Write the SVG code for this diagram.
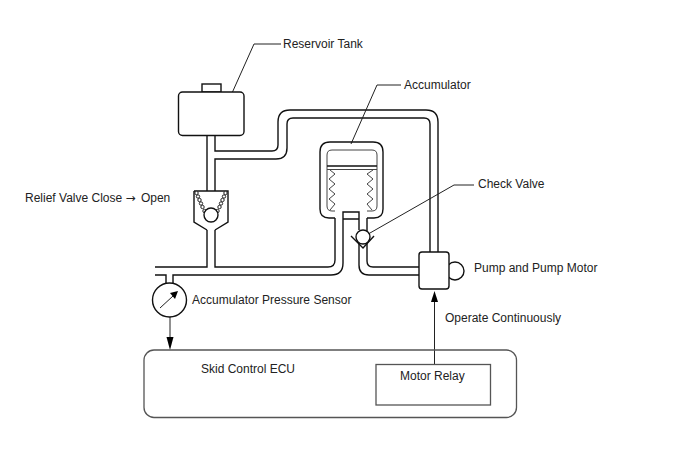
<svg xmlns="http://www.w3.org/2000/svg" width="688" height="463" viewBox="0 0 688 463">
  <defs>
    <style>
      .l { fill: none; stroke: #111; stroke-width: 1.4; }
      .t { fill: none; stroke: #222; stroke-width: 1; }
      .g { fill: none; stroke: #444; stroke-width: 1; }
      .f { fill: none; stroke: #555; stroke-width: 1.3; }
      .b { fill: #fff; stroke: #111; stroke-width: 1.4; }
      .c { fill: #fff; stroke: #222; stroke-width: 1; }
      .h { fill: #000; }
      .a { font-family: "DejaVu Sans", sans-serif; }
      text { font-family: "Liberation Sans", Arial, sans-serif; font-size: 12px; fill: #222; }
    </style>
  </defs>
  <rect width="688" height="463" fill="#fff"/>

  <g id="connectors">
    <!-- hydraulic lines -->
    <path class="l" d="M207 135V191M215 135V151H272Q278 151 278 145V122Q278 110 290 110H426Q438 110 438 122V252"/>
    <path class="l" d="M215 191V159H276Q287 159 287 148V124Q287 118 293 118H424Q430 118 430 124V252"/>
    <path class="l" d="M155 267H207V230M215 230V267H328Q335 267 335 260V218"/>
    <path class="l" d="M155 275H166V285M173 285V275H331Q343 275 343 263V219"/>
    <path class="l" d="M359 243V265Q359 275 369 275H419M367 243V261Q367 267 373 267H419"/>
    <!-- leader lines -->
    <path class="t" d="M281 44H254L228 102"/>
    <path class="t" d="M401 85H377L351 144"/>
    <path class="t" d="M474 185H454L363 237"/>
    <!-- signal lines -->
    <path class="t" d="M170 317V340"/>
    <path class="h" d="M166.500 337H173.500L170 350Z"/>
    <path class="t" d="M434.500 364V300"/>
    <path class="h" d="M431 302H438L434.500 291Z"/>
  </g>

  <g id="reservoir-tank">
    <rect class="b" x="202" y="84" width="19" height="8"/>
    <rect class="b" x="178.500" y="92" width="65.500" height="43.500" rx="4"/>
    <text x="283" y="48">Reservoir Tank</text>
  </g>

  <g id="relief-valve">
    <path class="l" d="M194 191H228V222L215 230M207 230L194 222V191"/>
    <g>
      <circle class="c" cx="196.500" cy="193" r="1.700"/><circle class="c" cx="198" cy="196.500" r="1.700"/>
      <circle class="c" cx="199.500" cy="200" r="1.700"/><circle class="c" cx="201" cy="203.500" r="1.700"/>
      <circle class="c" cx="202.500" cy="207" r="1.700"/><circle class="c" cx="204.500" cy="211" r="1.700"/>
      <circle class="c" cx="225.500" cy="193" r="1.700"/><circle class="c" cx="224" cy="196.500" r="1.700"/>
      <circle class="c" cx="222.500" cy="200" r="1.700"/><circle class="c" cx="221" cy="203.500" r="1.700"/>
      <circle class="c" cx="219.500" cy="207" r="1.700"/><circle class="c" cx="217.500" cy="211" r="1.700"/>
    </g>
    <circle class="b" cx="211" cy="215" r="7"/>
    <text x="25" y="202">Relief Valve Close <tspan class="a">→</tspan><tspan dx="2"> Open</tspan></text>
  </g>

  <g id="accumulator">
    <path class="l" d="M335 218H329Q320 218 320 209V152Q320 142 330 142H373Q383 142 383 152V209Q383 218 374 218H367"/>
    <path class="g" d="M335 211H332Q327 211 327 206V155Q327 150 332 150H372Q377 150 377 155V206Q377 211 372 211H367"/>
    <path class="l" d="M327 166H377"/>
    <path class="g" d="M327 169.500H377"/>
    <path class="g" d="M330 170L335 174L329 179L335 184L329 189L335 194L329 199L335 204L330 210"/>
    <path class="g" d="M373 170L367 174L373 179L367 184L373 189L367 194L373 199L367 204L372 210"/>
    <path class="l" d="M343 219V212H359V230M343 219H359M367 218V231"/>
    <text x="404" y="89">Accumulator</text>
  </g>

  <g id="check-valve">
    <path class="l" d="M351 236L363 248L374 236"/>
    <circle class="b" cx="363" cy="237" r="7"/>
    <text x="478" y="188">Check Valve</text>
  </g>

  <g id="pump">
    <circle class="b" cx="455" cy="271" r="9"/>
    <rect class="b" x="419" y="252" width="30" height="37" rx="3"/>
    <text x="474" y="272">Pump and Pump Motor</text>
  </g>

  <g id="pressure-sensor">
    <circle class="b" cx="169.500" cy="300" r="17"/>
    <path class="t" d="M160 308L173 296"/>
    <path class="h" d="M170 293L175 299L178 291Z"/>
    <text x="192" y="304">Accumulator Pressure Sensor</text>
  </g>

  <g id="skid-control-ecu">
    <rect class="f" x="144" y="350" width="372.500" height="67.500" rx="10"/>
    <text x="201" y="373">Skid Control ECU</text>
  </g>

  <g id="motor-relay">
    <rect class="f" x="376" y="364.500" width="114.500" height="40.500"/>
    <text x="400" y="380">Motor Relay</text>
  </g>

  <text id="operate-label" x="445" y="322">Operate Continuously</text>
</svg>
